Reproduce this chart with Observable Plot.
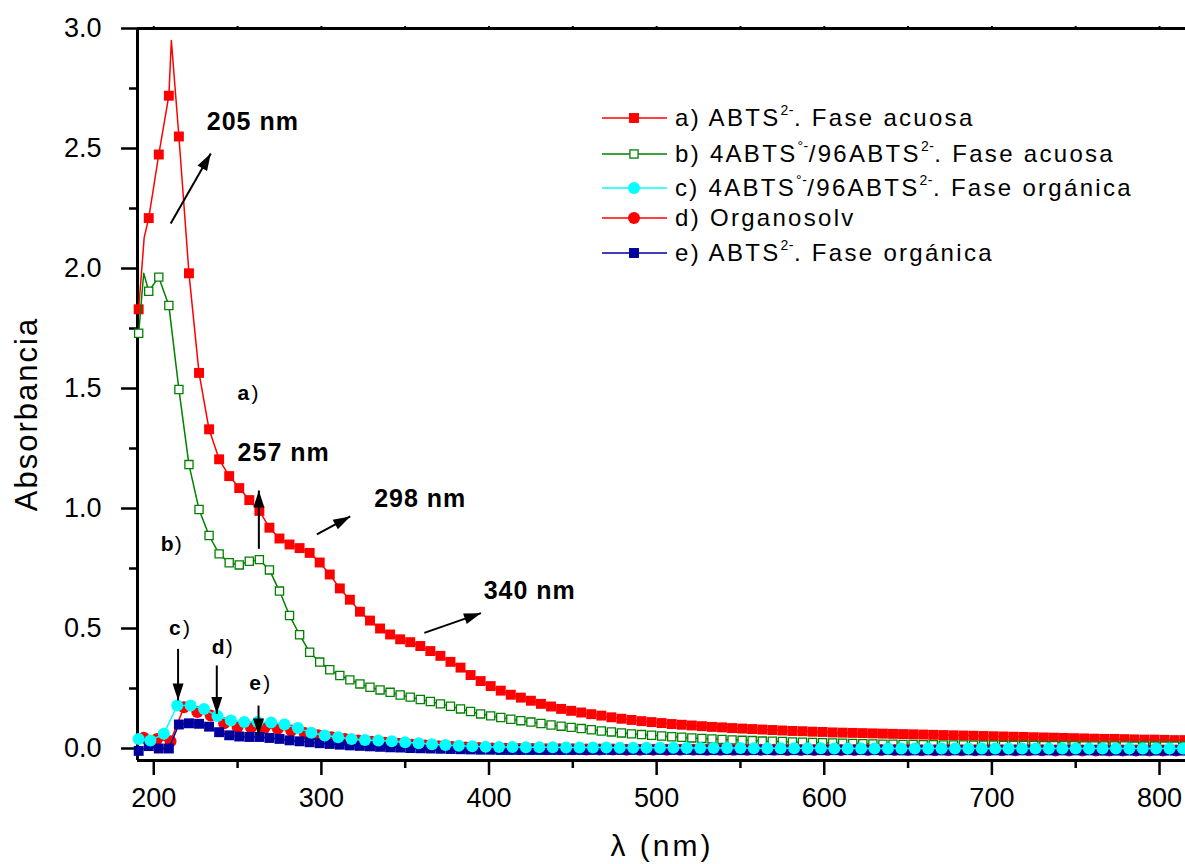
<!DOCTYPE html>
<html><head><meta charset="utf-8">
<script src="https://cdn.jsdelivr.net/npm/d3@7"></script>
<script src="https://cdn.jsdelivr.net/npm/@observablehq/plot@0.6"></script>
<style>
body{margin:0;background:#fff;}
#wrap{position:relative;width:1185px;height:864px;font-family:"Liberation Sans",Arial,sans-serif;color:#000;overflow:hidden;}
.leg{position:absolute;left:602px;height:30px;display:flex;align-items:center;font-size:24px;letter-spacing:2.3px;white-space:nowrap;}
.leg svg{margin-right:8px;flex:none;}
.leg .sup{font-size:14px;position:relative;top:-11px;letter-spacing:0.5px;}
#ylab{position:absolute;left:26px;top:414px;transform:translate(-50%,-50%) rotate(-90deg);font-size:31px;letter-spacing:2px;white-space:nowrap;line-height:1;}
#xlab{position:absolute;left:662px;top:846px;transform:translate(-50%,-50%);font-size:30px;letter-spacing:3px;white-space:nowrap;line-height:1;}
svg g[aria-label="text"] text{letter-spacing:1px;}
</style></head>
<body>
<div id="wrap"><div id="chart"></div></div>
<script>
// ---- data ----
const lamA = [191,197,203,209,215,221,227,233,239,245,251,257,263,269,275,281,287,293,299,305,311,317,323,329,335,341,347,353,359,365,371,377,383,389,395,401,407,413,419,425,431,437,443,449,455,461,467,473,479,485,491,497,503,509,515,521,527,533,539,545,551,557,563,569,575,581,587,593,599,605,611,617,623,629,635,641,647,653,659,665,671,677,683,689,695,701,707,713,719,725,731,737,743,749,755,761,767,773,779,785,791,797,803,809,815];
const valA = [1.83,2.21,2.475,2.72,2.55,1.98,1.565,1.33,1.205,1.135,1.085,1.035,0.99,0.92,0.875,0.85,0.835,0.815,0.775,0.725,0.667,0.62,0.57,0.533,0.5,0.475,0.455,0.443,0.427,0.406,0.386,0.361,0.337,0.306,0.281,0.26,0.241,0.224,0.212,0.199,0.186,0.175,0.165,0.157,0.15,0.143,0.137,0.13,0.124,0.119,0.114,0.11,0.106,0.102,0.099,0.096,0.093,0.09,0.088,0.085,0.083,0.081,0.079,0.077,0.075,0.073,0.072,0.07,0.069,0.067,0.066,0.065,0.064,0.063,0.062,0.061,0.06,0.059,0.058,0.057,0.056,0.055,0.054,0.053,0.052,0.051,0.05,0.049,0.048,0.047,0.046,0.045,0.044,0.043,0.042,0.041,0.04,0.04,0.039,0.038,0.037,0.037,0.036,0.035,0.035];
const extraLamA = [194.3,210.5];
const extraValA = [2.13,2.95];
const valB = [1.73,1.905,1.964,1.846,1.496,1.183,0.996,0.8875,0.811,0.774,0.765,0.78,0.787,0.744,0.656,0.554,0.474,0.401,0.36,0.328,0.304,0.286,0.269,0.255,0.244,0.234,0.223,0.214,0.204,0.196,0.186,0.176,0.165,0.154,0.144,0.136,0.129,0.122,0.116,0.11,0.104,0.098,0.093,0.088,0.083,0.078,0.073,0.069,0.065,0.061,0.058,0.055,0.052,0.049,0.047,0.044,0.042,0.04,0.038,0.036,0.034,0.033,0.031,0.03,0.029,0.027,0.026,0.025,0.024,0.023,0.022,0.021,0.02,0.019,0.018,0.018,0.017,0.017,0.016,0.016,0.015,0.015,0.015,0.014,0.014,0.014,0.013,0.013,0.013,0.013,0.012,0.012,0.012,0.012,0.011,0.011,0.011,0.011,0.011,0.01,0.01,0.01,0.01,0.01,0.01];
const extraLamB = [194];
const extraValB = [1.98];
const lamC = [191,198,206,214,222,230,238,246,254,262,270,278,286,294,302,310,318,326,334,342,350,358,366,374,382,390,398,406,414,422,430,438,446,454,462,470,478,486,494,502,510,518,526,534,542,550,558,566,574,582,590,598,606,614,622,630,638,646,654,662,670,678,686,694,702,710,718,726,734,742,750,758,766,774,782,790,798,806,814];
const valC = [0.04,0.033,0.061,0.179,0.179,0.165,0.135,0.117,0.11,0.11,0.108,0.1,0.085,0.066,0.054,0.047,0.04,0.035,0.033,0.03,0.026,0.022,0.018,0.015,0.011,0.009,0.007,0.006,0.006,0.005,0.005,0.005,0.004,0.004,0.004,0.004,0.003,0.003,0.003,0.003,0.003,0.002,0.002,0.002,0.002,0.002,0.001,0.001,0.001,0.001,0.001,0.001,0,0,0,0,0,0,0,0,0,0,0,0,0,0,0,0,0,0,0,0,0,0,0,0,0,0,0];
const lamD = [194,202,210,218,226,234,242,250,258,266,274,282,290,298,306,314,322,330,338,346,354,362,370,378,386,394,402,410,418,426,434,442,450,458,466,474,482,490,498,506,514,522,530,538,546,554,562,570,578,586,594,602,610,618,626,634,642,650,658,666,674,682,690,698,706,714,722,730,738,746,754,762,770,778,786,794,802,810];
const valD = [0.045,0.04,0.03,0.172,0.152,0.137,0.105,0.09,0.087,0.085,0.082,0.075,0.065,0.055,0.047,0.04,0.033,0.028,0.024,0.02,0.016,0.012,0.009,0.006,0.004,0.002,0,-0.001,-0.002,-0.002,-0.003,-0.003,-0.003,-0.004,-0.004,-0.004,-0.005,-0.005,-0.005,-0.005,-0.005,-0.005,-0.005,-0.005,-0.005,-0.005,-0.005,-0.005,-0.006,-0.006,-0.006,-0.006,-0.006,-0.006,-0.006,-0.006,-0.006,-0.006,-0.007,-0.007,-0.007,-0.007,-0.007,-0.007,-0.007,-0.007,-0.007,-0.007,-0.008,-0.008,-0.008,-0.008,-0.008,-0.008,-0.008,-0.008,-0.008,-0.008];
const valE = [-0.01,0.01,0,0,0.1,0.105,0.103,0.091,0.068,0.055,0.05,0.048,0.048,0.044,0.04,0.034,0.03,0.026,0.022,0.019,0.016,0.013,0.011,0.009,0.007,0.005,0.004,0.002,0.001,0,-0.001,-0.002,-0.003,-0.004,-0.005,-0.005,-0.006,-0.006,-0.006,-0.006,-0.006,-0.006,-0.006,-0.006,-0.006,-0.006,-0.006,-0.006,-0.006,-0.006,-0.006,-0.006,-0.006,-0.006,-0.006,-0.006,-0.007,-0.007,-0.007,-0.007,-0.007,-0.007,-0.007,-0.007,-0.007,-0.007,-0.007,-0.007,-0.007,-0.007,-0.007,-0.007,-0.007,-0.007,-0.007,-0.007,-0.008,-0.008,-0.008,-0.008,-0.008,-0.008,-0.008,-0.008,-0.008,-0.008,-0.008,-0.008,-0.008,-0.008,-0.008,-0.008,-0.008,-0.008,-0.008,-0.008,-0.009,-0.009,-0.009,-0.009,-0.009,-0.009,-0.009,-0.009,-0.009];

const xMajor = [200,300,400,500,600,700,800];
const xMinor = [250,350,450,550,650,750];
const yMajor = [0,0.5,1.0,1.5,2.0,2.5,3.0];
const yMinor = [0.25,0.75,1.25,1.75,2.25,2.75];

const annoText = ["205 nm","257 nm","298 nm","340 nm"];
const annoLam = [231.6,250,331.5,396.8];
const annoVal = [2.579,1.2,1.008,0.624];

const tagText = ["a","b","c","d","e"];
const tagLam = [249.9,204.2,209.1,234.6,256.9];
const tagVal = [1.454,0.825,0.471,0.392,0.242];

const arrX1 = [210.1,262.7,297.3,361.4,214.5,237.6,262.5];
const arrY1 = [2.1875,0.832,0.892,0.482,0.415,0.346,0.179];
const arrX2 = [234.0,262.7,317.2,395.2,214.5,237.6,262.5];
const arrY2 = [2.479,1.075,0.967,0.564,0.200,0.144,0.054];

const legendLabels = [
  'a) ABTS<span class="sup">2-</span>. Fase acuosa',
  'b) 4ABTS<span class="sup">&deg;-</span>/96ABTS<span class="sup">2-</span>. Fase acuosa',
  'c) 4ABTS<span class="sup">&deg;-</span>/96ABTS<span class="sup">2-</span>. Fase org&aacute;nica',
  'd) Organosolv',
  'e) ABTS<span class="sup">2-</span>. Fase org&aacute;nica'
];
const legendRowY = [118,154,188,218,253];

// ---- styles ----
const RED="#ff0000", GREEN="#008000", CYAN="#00ffff", NAVY="#00009c";
const series = [
  {color:RED, symbol:"square", fill:RED, r:5.6},
  {color:GREEN, symbol:"square", fill:"white", r:4.6, stroke:GREEN},
  {color:CYAN, symbol:"circle", fill:CYAN, r:6},
  {color:RED, symbol:"circle", fill:RED, r:6},
  {color:NAVY, symbol:"square", fill:NAVY, r:5.6}
];

const W=1185,H=864,ML=137,MR=0,MT=28,MB=104;
const xDomain=[190.3,815.5], yDomain=[-0.05,3.0];

const rows=(xs,ys)=>xs.map((x,i)=>({x,y:ys[i]}));
const A=rows(lamA,valA), B=rows(lamA,valB), C=rows(lamC,valC), D=rows(lamD,valD), E=rows(lamA,valE);
const lineA=[...A,...rows(extraLamA,extraValA)].sort((p,q)=>p.x-q.x);
const lineB=[...B,...rows(extraLamB,extraValB)].sort((p,q)=>p.x-q.x);

const sx = Plot.scale({x:{domain:xDomain, range:[ML, W-MR]}});
const sy = Plot.scale({y:{domain:yDomain, range:[H-MB, MT]}});
const arrows = arrX1.map((x1,i)=>{
  const a={x1,y1:arrY1[i],x2:arrX2[i],y2:arrY2[i]};
  const dx=sx.apply(a.x2)-sx.apply(a.x1), dy=sy.apply(a.y2)-sy.apply(a.y1);
  a.rot=Math.atan2(dx,-dy)*180/Math.PI;
  return a;
});
const headShape={draw(ctx,l){ctx.moveTo(0,-l);ctx.lineTo(-5.5,0);ctx.lineTo(5.5,0);ctx.closePath();}};
const annos=annoText.map((t,i)=>({t,x:annoLam[i],y:annoVal[i]}));
const tags=tagText.map((t,i)=>({t,x:tagLam[i],y:tagVal[i]}));

const dots=(data,s)=>Plot.dot(data,{x:"x",y:"y",symbol:s.symbol,r:s.r,fill:s.fill,stroke:s.stroke||"none",strokeWidth:1.3});
const line=(data,s,w=1.5)=>Plot.line(data,{x:"x",y:"y",stroke:s.color,strokeWidth:w});

const plot = Plot.plot({
  width:W,height:H,marginLeft:ML,marginRight:MR,marginTop:MT,marginBottom:MB,
  style:{fontFamily:"'Liberation Sans', Arial, sans-serif",background:"white",color:"black",overflow:"visible"},
  x:{domain:xDomain,axis:null,label:null},
  y:{domain:yDomain,axis:null,label:null},
  marks:[
    Plot.axisX({ticks:xMajor,anchor:"bottom",tickSize:15,tickPadding:12,fontSize:27,strokeWidth:2.5,tickFormat:d=>String(d),label:null}),
    Plot.axisX({ticks:xMinor,anchor:"bottom",tickSize:8,strokeWidth:2.5,tickFormat:()=>"",label:null}),
    Plot.axisX({ticks:[...xMajor,...xMinor],anchor:"top",tickSize:3,strokeWidth:2,tickFormat:()=>"",label:null}),
    Plot.axisY({ticks:yMajor,anchor:"left",tickSize:16,tickPadding:20,fontSize:27,strokeWidth:2.5,tickFormat:d=>d.toFixed(1),label:null}),
    Plot.axisY({ticks:yMinor,anchor:"left",tickSize:8,strokeWidth:2.5,tickFormat:()=>"",label:null}),
    Plot.ruleX([xDomain[0]],{stroke:"black",strokeWidth:3}),
    Plot.ruleY([yDomain[0]],{stroke:"black",strokeWidth:3}),
    Plot.ruleY([yDomain[1]],{stroke:"black",strokeWidth:3}),
    line(lineA,series[0]), dots(A,series[0]),
    line(lineB,series[1]), dots(B,series[1]),
    line(D,series[3]), dots(D,series[3]),
    line(E,series[4]), dots(E,series[4]),
    line(C,series[2]), dots(C,series[2]),
    Plot.link(arrows,{x1:"x1",y1:"y1",x2:"x2",y2:"y2",stroke:"black",strokeWidth:2}),
    Plot.vector(arrows,{x:"x2",y:"y2",rotate:"rot",length:17,anchor:"end",shape:headShape,fill:"black",stroke:"none"}),
    Plot.text(annos,{x:"x",y:"y",text:"t",textAnchor:"start",lineAnchor:"bottom",fontSize:25,fontWeight:"bold",fill:"black"}),
    Plot.text(tags,{x:"x",y:"y",text:"t",textAnchor:"start",lineAnchor:"bottom",fontSize:21,fontWeight:"bold",fill:"black"}),
    Plot.text(tags,{x:"x",y:"y",text:()=>")",dx:14,textAnchor:"start",lineAnchor:"bottom",fontSize:21,fill:"black"})
  ]
});
const wrap=document.getElementById("wrap");
document.getElementById("chart").appendChild(plot);

// legend (inside plot area, top right)
legendLabels.forEach((lab,i)=>{
  const s=series[i];
  const row=document.createElement("div");
  row.className="leg";
  row.style.top=(legendRowY[i]-15)+"px";
  const side=s.r*Math.sqrt(Math.PI);
  const mk = s.symbol==="square"
    ? `<rect x="${32-side/2}" y="${15-side/2}" width="${side}" height="${side}" fill="${s.fill}" stroke="${s.stroke||'none'}" stroke-width="1.3"/>`
    : `<circle cx="32" cy="15" r="${s.r}" fill="${s.fill}"/>`;
  row.innerHTML=`<svg width="65" height="30"><line x1="0" x2="65" y1="15" y2="15" stroke="${s.color}" stroke-width="1.5"/>${mk}</svg><span>${lab}</span>`;
  wrap.appendChild(row);
});
const yl=document.createElement("div"); yl.id="ylab"; yl.textContent="Absorbancia"; wrap.appendChild(yl);
const xl=document.createElement("div"); xl.id="xlab"; xl.textContent="λ (nm)"; wrap.appendChild(xl);
</script>
</body></html>
